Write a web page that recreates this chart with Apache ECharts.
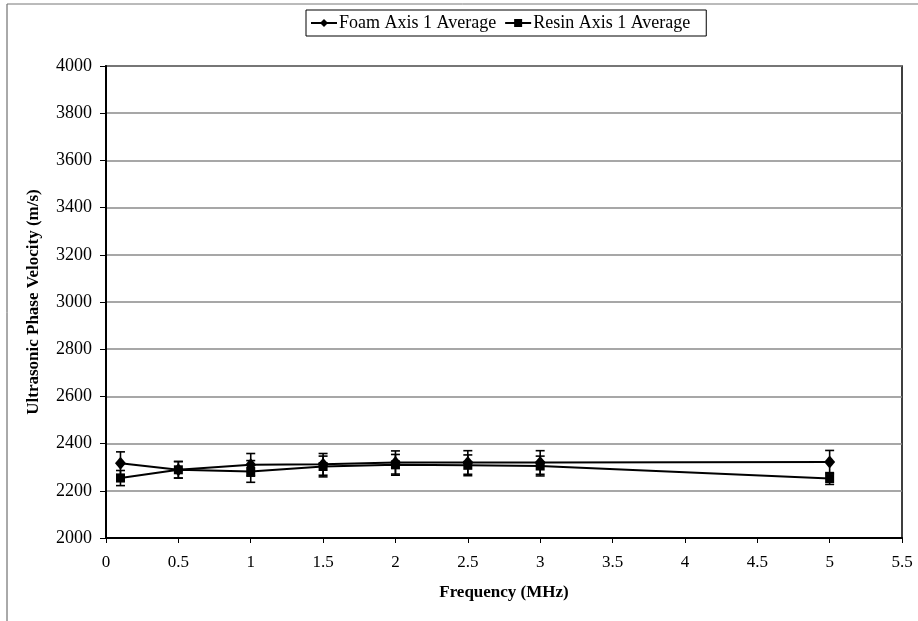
<!DOCTYPE html>
<html>
<head>
<meta charset="utf-8">
<script src="https://cdn.jsdelivr.net/npm/echarts@6/dist/echarts.min.js"></script>
<style>
  html, body { margin: 0; padding: 0; background: #fff; }
  #chart { width: 918px; height: 621px; }
</style>
</head>
<body>
<div id="chart"></div>
<script>
// Frequency sweep (MHz)
const frequency = [0.1, 0.5, 1, 1.5, 2, 2.5, 3, 5];

// Foam, axis 1: mean phase velocity (m/s) and half-range of the error bar
const foamAvg = [2317, 2289, 2310, 2312, 2320, 2320, 2320, 2322];
const foamErr = [48, 35, 48, 46, 49, 50, 50, 49];

// Resin, axis 1
const resinAvg = [2254, 2289, 2282, 2303, 2310, 2308, 2305, 2252];
const resinErr = [32, 35, 46, 44, 44, 44, 42, 25];

const seriesNames = ['Foam Axis 1 Average', 'Resin Axis 1 Average'];

const FONT = '"Liberation Serif", "Times New Roman", serif';

function pairs(xs, ys) { return xs.map((x, i) => [x, ys[i]]); }
function errRows(xs, ys, es) { return xs.map((x, i) => [x, ys[i] - es[i], ys[i] + es[i]]); }

// Vertical error bar with horizontal caps
function renderErr(params, api) {
  const x = api.value(0);
  const lo = api.coord([x, api.value(1)]);
  const hi = api.coord([x, api.value(2)]);
  const half = 4.5;
  const style = { stroke: '#000', lineWidth: 1.6 };
  return {
    type: 'group',
    children: [
      { type: 'line', shape: { x1: lo[0], y1: lo[1], x2: hi[0], y2: hi[1] }, style },
      { type: 'line', shape: { x1: lo[0] - half, y1: lo[1], x2: lo[0] + half, y2: lo[1] }, style },
      { type: 'line', shape: { x1: hi[0] - half, y1: hi[1], x2: hi[0] + half, y2: hi[1] }, style }
    ]
  };
}

const chart = echarts.init(document.getElementById('chart'), null, { renderer: 'canvas' });

chart.setOption({
  backgroundColor: '#fff',
  animation: false,
  textStyle: { fontFamily: FONT, color: '#000' },
  grid: { left: 106, right: 16, top: 66, bottom: 83, show: true, borderColor: '#000', borderWidth: 1.5 },
  legend: {
    data: seriesNames,
    left: 306,
    top: 10,
    itemGap: 8,
    itemWidth: 26,
    itemHeight: 10,
    padding: [4, 16, 4, 4],
    borderColor: '#000',
    borderWidth: 1,
    textStyle: { fontFamily: FONT, fontSize: 18, color: '#000', padding: [0, 0, 0, -3] }
  },
  xAxis: {
    type: 'value',
    min: 0,
    max: 5.5,
    interval: 0.5,
    name: 'Frequency (MHz)',
    nameLocation: 'middle',
    nameGap: 46,
    nameTextStyle: { fontFamily: FONT, fontSize: 17, fontWeight: 'bold', color: '#000' },
    axisLine: { show: true, lineStyle: { color: '#000', width: 2 } },
    axisTick: { show: true, inside: false, length: 5, lineStyle: { color: '#000', width: 1 } },
    axisLabel: { fontFamily: FONT, fontSize: 17, color: '#000', margin: 16 },
    splitLine: { show: false }
  },
  yAxis: {
    type: 'value',
    min: 2000,
    max: 4000,
    interval: 200,
    name: 'Ultrasonic Phase Velocity (m/s)',
    nameLocation: 'middle',
    nameGap: 64,
    nameTextStyle: { fontFamily: FONT, fontSize: 17, fontWeight: 'bold', color: '#000' },
    axisLine: { show: true, lineStyle: { color: '#000', width: 2 } },
    axisTick: { show: true, inside: false, length: 6, lineStyle: { color: '#000', width: 1 } },
    axisLabel: { fontFamily: FONT, fontSize: 18, color: '#000', margin: 14, formatter: v => String(v) },
    splitLine: { show: true, lineStyle: { color: '#8a8a8a', width: 1.5 } }
  },
  series: [
    {
      name: seriesNames[0],
      type: 'line',
      data: pairs(frequency, foamAvg),
      symbol: 'diamond',
      symbolSize: [11, 13],
      lineStyle: { color: '#000', width: 2 },
      itemStyle: { color: '#000' },
      z: 3
    },
    {
      name: seriesNames[1],
      type: 'line',
      data: pairs(frequency, resinAvg),
      symbol: 'rect',
      symbolSize: 9,
      lineStyle: { color: '#000', width: 2 },
      itemStyle: { color: '#000' },
      z: 3
    },
    {
      name: seriesNames[0] + ' error',
      type: 'custom',
      data: errRows(frequency, foamAvg, foamErr),
      renderItem: renderErr,
      encode: { x: 0, y: [1, 2] },
      z: 4,
      silent: true
    },
    {
      name: seriesNames[1] + ' error',
      type: 'custom',
      data: errRows(frequency, resinAvg, resinErr),
      renderItem: renderErr,
      encode: { x: 0, y: [1, 2] },
      z: 4,
      silent: true
    }
  ],
  graphic: [
    // thin frame around the figure (left and top edges)
    { type: 'line', shape: { x1: 7, y1: 4, x2: 7, y2: 621 }, style: { stroke: '#555', lineWidth: 1 } },
    { type: 'line', shape: { x1: 7, y1: 4, x2: 918, y2: 4 }, style: { stroke: '#777', lineWidth: 1 } }
  ]
});
</script>
</body>
</html>
